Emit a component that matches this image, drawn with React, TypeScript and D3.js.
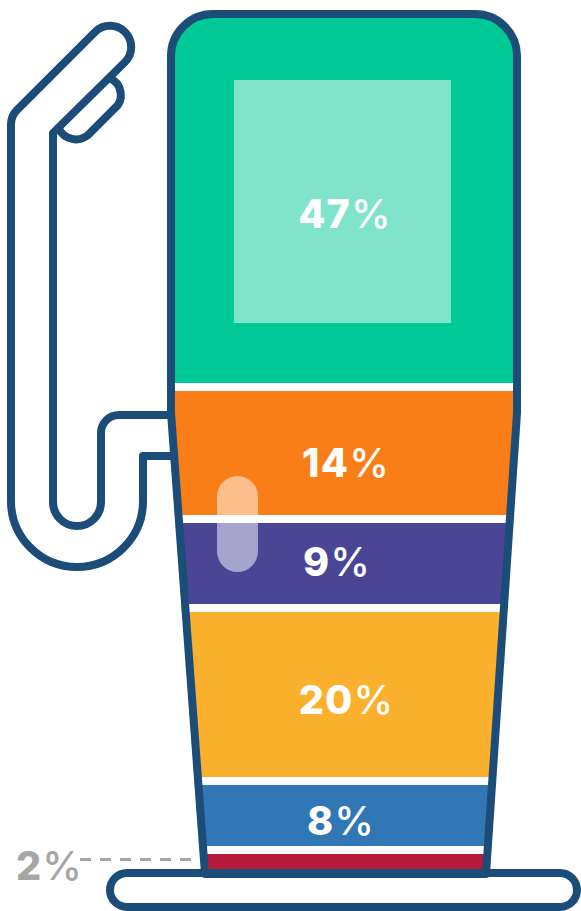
import React from "react";
import * as d3 from "d3";

// Printed labels, top to bottom
const values = ["47", "14", "9", "20", "8", "2"];
// Band shares as they appear in the picture (drawn heights, in percent)
const drawnShares = [45.0, 15.12, 9.88, 20.12, 7.44, 2.44];
const colors = ["#00C896", "#F97E17", "#4B4596", "#FBB02E", "#3176B5", "#B51A38"];
const labelColors = ["#FFFFFF", "#FFFFFF", "#FFFFFF", "#FFFFFF", "#FFFFFF", "#A6A6A6"];

const NAVY = "#1B4D78";
const SW = 8;
const GAP = 8;

const bodyPath =
  "M171 413 L171 56 A42 42 0 0 1 213 14 L475 14 A42 42 0 0 1 517 56 L517 413 L486 874 L205 874 Z";
const hosePath =
  "M171 415 L119 415 A18 18 0 0 0 101 433 L101 502 A24 24 0 0 1 53 502 L53 133 L125 62 A21 21 0 0 0 95 32 L16.9 110.1 A20 20 0 0 0 11 124.3 L11 501 A66 66 0 0 0 143 501 L143 456 L174 456";
const triggerPath = "M109 78 A18 18 0 0 1 114 109 L88 135 A19 19 0 0 1 59 129";

export default function App() {
  const W = 581;
  const H = 911;
  const totalGap = GAP * (drawnShares.length - 1);
  const y = d3.scaleLinear().domain([0, d3.sum(drawnShares)]).range([14, 874 - totalGap]);
  const tops = d3.cumsum([0, ...drawnShares.slice(0, -1)]);
  const bands = drawnShares.map((s, i) => ({
    y0: y(tops[i]) + GAP * i,
    y1: y(tops[i] + s) + GAP * i,
    color: colors[i],
    value: values[i],
    labelColor: labelColors[i],
  }));

  const labelX = [344.5, 345.5, 336.5, 346, 340.5, 49];
  const labelY = [228, 477, 576, 714, 835, 880];

  return (
    <svg
      width={W}
      height={H}
      viewBox={`0 0 ${W} ${H}`}
      style={{ position: "absolute", left: 0, top: 0, display: "block", background: "#fff" }}
    >
      <defs>
        <clipPath id="body">
          <path d={bodyPath} />
        </clipPath>
      </defs>

      <path d={hosePath} fill="none" stroke={NAVY} strokeWidth={SW} strokeLinejoin="round" strokeLinecap="butt" />
      <path d={triggerPath} fill="none" stroke={NAVY} strokeWidth={SW} />

      <g clipPath="url(#body)">
        {bands.map((b) => (
          <rect key={b.value} x={160} y={b.y0} width={370} height={b.y1 - b.y0} fill={b.color} />
        ))}
      </g>

      <rect x={234} y={80} width={217} height={243} fill="#fff" opacity={0.5} />
      <rect x={217} y={476} width={41} height={96} rx={20.5} fill="#fff" opacity={0.5} />

      <line x1={80} x2={205} y1={859.5} y2={859.5} stroke="#A6A6A6" strokeWidth={3} strokeDasharray="11 9" />

      <path d={bodyPath} fill="none" stroke={NAVY} strokeWidth={SW} strokeLinejoin="round" />
      <rect x={110} y={873} width={467} height={34} rx={17} fill="none" stroke={NAVY} strokeWidth={SW} />

      {bands.map((b, i) => (
        <text
          key={b.value}
          x={labelX[i]}
          y={labelY[i]}
          textAnchor="middle"
          fill={b.labelColor}
          fontFamily="Inter, 'Open Sans', sans-serif"
          fontSize={39.5}
        >
          <tspan fontWeight={800} letterSpacing={1.2}>{b.value}</tspan>
          <tspan fontWeight={500} fontSize={40}>%</tspan>
        </text>
      ))}
    </svg>
  );
}
